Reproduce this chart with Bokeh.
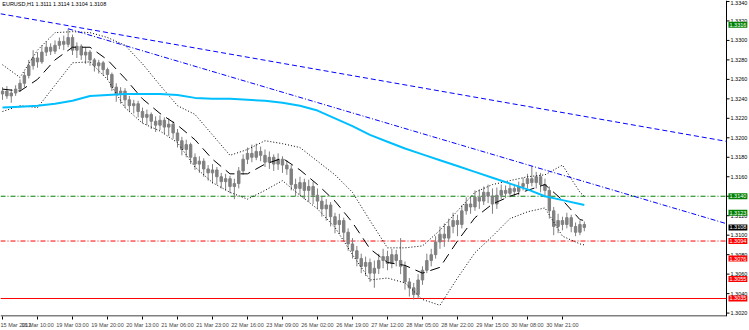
from bokeh.plotting import figure
from bokeh.models import Range1d, FixedTicker, Label
from bokeh.core.properties import value
from bokeh.embed import file_html
from bokeh.resources import INLINE

# ---------------- data ----------------
chart_title = "EURUSD,H1  1.3111 1.3114 1.3104 1.3108"

opens = [1.3245, 1.3248, 1.3243, 1.3246, 1.3250, 1.3256, 1.3264, 1.3274, 1.3282, 1.3278,
         1.3288, 1.3293, 1.3289, 1.3295, 1.3299, 1.3296, 1.3303, 1.3290, 1.3294, 1.3285,
         1.3288, 1.3280, 1.3274, 1.3277, 1.3270, 1.3265, 1.3252, 1.3245, 1.3248, 1.3239,
         1.3233, 1.3235, 1.3227, 1.3221, 1.3224, 1.3217, 1.3213, 1.3218, 1.3211, 1.3214,
         1.3205, 1.3197, 1.3188, 1.3193, 1.3180, 1.3173, 1.3176, 1.3168, 1.3164, 1.3167,
         1.3160, 1.3155, 1.3158, 1.3150, 1.3153, 1.3166, 1.3178, 1.3184, 1.3180, 1.3186,
         1.3182, 1.3175, 1.3180, 1.3173, 1.3178, 1.3172, 1.3168, 1.3152, 1.3148, 1.3154,
         1.3146, 1.3150, 1.3141, 1.3135, 1.3127, 1.3131, 1.3119, 1.3111, 1.3115, 1.3103,
         1.3091, 1.3084, 1.3076, 1.3068, 1.3072, 1.3061, 1.3066, 1.3074, 1.3078, 1.3071,
         1.3080, 1.3074, 1.3068, 1.3052, 1.3046, 1.3039, 1.3054, 1.3064, 1.3074, 1.3080,
         1.3093, 1.3101, 1.3097, 1.3109, 1.3115, 1.3111, 1.3125, 1.3132, 1.3129, 1.3139,
         1.3135, 1.3144, 1.3140, 1.3132, 1.3141, 1.3146, 1.3143, 1.3148, 1.3145, 1.3150,
         1.3153, 1.3158, 1.3154, 1.3160, 1.3152, 1.3146, 1.3125, 1.3109, 1.3115, 1.3111,
         1.3118, 1.3109, 1.3103, 1.3111]
highs = [1.3252, 1.3253, 1.3250, 1.3254, 1.3260, 1.3268, 1.3280, 1.3290, 1.3288, 1.3295,
         1.3299, 1.3297, 1.3300, 1.3303, 1.3305, 1.3312, 1.3306, 1.3298, 1.3296, 1.3293,
         1.3290, 1.3282, 1.3280, 1.3279, 1.3272, 1.3267, 1.3256, 1.3252, 1.3251, 1.3243,
         1.3239, 1.3238, 1.3231, 1.3229, 1.3226, 1.3222, 1.3223, 1.3221, 1.3220, 1.3217,
         1.3209, 1.3201, 1.3198, 1.3195, 1.3184, 1.3181, 1.3179, 1.3172, 1.3173, 1.3170,
         1.3164, 1.3163, 1.3161, 1.3158, 1.3170, 1.3183, 1.3190, 1.3193, 1.3194, 1.3191,
         1.3188, 1.3186, 1.3183, 1.3184, 1.3181, 1.3177, 1.3172, 1.3158, 1.3160, 1.3158,
         1.3157, 1.3155, 1.3148, 1.3140, 1.3137, 1.3134, 1.3123, 1.3122, 1.3118, 1.3107,
         1.3097, 1.3089, 1.3081, 1.3078, 1.3076, 1.3074, 1.3081, 1.3086, 1.3084, 1.3086,
         1.3085, 1.3097, 1.3073, 1.3056, 1.3051, 1.3060, 1.3068, 1.3081, 1.3086, 1.3099,
         1.3109, 1.3112, 1.3117, 1.3123, 1.3121, 1.3131, 1.3139, 1.3140, 1.3146, 1.3147,
         1.3150, 1.3152, 1.3148, 1.3149, 1.3152, 1.3151, 1.3153, 1.3152, 1.3155, 1.3159,
         1.3163, 1.3171, 1.3165, 1.3164, 1.3158, 1.3150, 1.3129, 1.3122, 1.3119, 1.3123,
         1.3121, 1.3113, 1.3115, 1.3114]
lows = [1.3239, 1.3240, 1.3236, 1.3243, 1.3247, 1.3252, 1.3261, 1.3270, 1.3272, 1.3276,
        1.3284, 1.3285, 1.3286, 1.3291, 1.3290, 1.3293, 1.3285, 1.3282, 1.3280, 1.3276,
        1.3274, 1.3268, 1.3266, 1.3264, 1.3260, 1.3248, 1.3237, 1.3235, 1.3231, 1.3227,
        1.3225, 1.3221, 1.3215, 1.3213, 1.3209, 1.3206, 1.3208, 1.3204, 1.3202, 1.3199,
        1.3190, 1.3182, 1.3180, 1.3173, 1.3167, 1.3164, 1.3160, 1.3156, 1.3153, 1.3152,
        1.3148, 1.3146, 1.3143, 1.3137, 1.3148, 1.3162, 1.3173, 1.3175, 1.3177, 1.3176,
        1.3170, 1.3168, 1.3166, 1.3167, 1.3164, 1.3162, 1.3146, 1.3140, 1.3141, 1.3137,
        1.3134, 1.3132, 1.3127, 1.3119, 1.3115, 1.3109, 1.3102, 1.3101, 1.3095, 1.3084,
        1.3076, 1.3068, 1.3061, 1.3058, 1.3052, 1.3046, 1.3060, 1.3066, 1.3064, 1.3066,
        1.3068, 1.3060, 1.3044, 1.3037, 1.3034, 1.3035, 1.3049, 1.3061, 1.3068, 1.3076,
        1.3086, 1.3088, 1.3093, 1.3102, 1.3099, 1.3107, 1.3121, 1.3122, 1.3125, 1.3127,
        1.3131, 1.3133, 1.3122, 1.3127, 1.3137, 1.3138, 1.3139, 1.3140, 1.3141, 1.3146,
        1.3148, 1.3150, 1.3148, 1.3144, 1.3139, 1.3117, 1.3100, 1.3102, 1.3105, 1.3107,
        1.3103, 1.3099, 1.3100, 1.3104]
closes = [1.3248, 1.3243, 1.3246, 1.3250, 1.3256, 1.3264, 1.3274, 1.3282, 1.3278, 1.3288,
          1.3293, 1.3289, 1.3295, 1.3299, 1.3296, 1.3303, 1.3290, 1.3294, 1.3285, 1.3288,
          1.3280, 1.3274, 1.3277, 1.3270, 1.3265, 1.3252, 1.3245, 1.3248, 1.3239, 1.3233,
          1.3235, 1.3227, 1.3221, 1.3224, 1.3217, 1.3213, 1.3218, 1.3211, 1.3214, 1.3205,
          1.3197, 1.3188, 1.3193, 1.3180, 1.3173, 1.3176, 1.3168, 1.3164, 1.3167, 1.3160,
          1.3155, 1.3158, 1.3150, 1.3153, 1.3166, 1.3178, 1.3184, 1.3180, 1.3186, 1.3182,
          1.3175, 1.3180, 1.3173, 1.3178, 1.3172, 1.3168, 1.3152, 1.3148, 1.3154, 1.3146,
          1.3150, 1.3141, 1.3135, 1.3127, 1.3131, 1.3119, 1.3111, 1.3115, 1.3103, 1.3091,
          1.3084, 1.3076, 1.3068, 1.3072, 1.3061, 1.3066, 1.3074, 1.3078, 1.3071, 1.3080,
          1.3074, 1.3068, 1.3052, 1.3046, 1.3039, 1.3054, 1.3064, 1.3074, 1.3080, 1.3093,
          1.3101, 1.3097, 1.3109, 1.3115, 1.3111, 1.3125, 1.3132, 1.3129, 1.3139, 1.3135,
          1.3144, 1.3140, 1.3132, 1.3141, 1.3146, 1.3143, 1.3148, 1.3145, 1.3150, 1.3153,
          1.3158, 1.3154, 1.3160, 1.3152, 1.3146, 1.3125, 1.3109, 1.3115, 1.3111, 1.3118,
          1.3109, 1.3103, 1.3111, 1.3108]

# indicator samples (bar index, value)
ind_idx = [0, 4, 8, 12, 16, 20, 24, 28, 32, 36, 40, 44, 48, 52, 56, 60, 64, 68, 72, 76,
           80, 84, 88, 92, 96, 100, 104, 108, 112, 116, 120, 124, 128, 132, 133]
bb_upper = [1.3275, 1.3262, 1.3290, 1.3308, 1.3309, 1.3308, 1.3303, 1.3295, 1.3276, 1.3254,
            1.3233, 1.3224, 1.3203, 1.3182, 1.3188, 1.3197, 1.3194, 1.3190, 1.3176, 1.3162,
            1.3144, 1.3115, 1.3087, 1.3087, 1.3089, 1.3105, 1.3125, 1.3144, 1.3152, 1.3156,
            1.3160, 1.3162, 1.3172, 1.3144, 1.3140]
bb_middle = [1.3250, 1.3248, 1.3260, 1.3280, 1.3293, 1.3293, 1.3280, 1.3261, 1.3240, 1.3225,
             1.3213, 1.3198, 1.3178, 1.3163, 1.3163, 1.3173, 1.3179, 1.3167, 1.3152, 1.3135,
             1.3113, 1.3086, 1.3072, 1.3069, 1.3061, 1.3067, 1.3094, 1.3118, 1.3132, 1.3140,
             1.3146, 1.3152, 1.3136, 1.3116, 1.3115]
bb_lower = [1.3227, 1.3233, 1.3231, 1.3254, 1.3277, 1.3278, 1.3260, 1.3231, 1.3215, 1.3207,
            1.3195, 1.3170, 1.3154, 1.3144, 1.3137, 1.3146, 1.3156, 1.3141, 1.3127, 1.3108,
            1.3080, 1.3054, 1.3056, 1.3051, 1.3034, 1.3028, 1.3056, 1.3082, 1.3099, 1.3117,
            1.3124, 1.3128, 1.3099, 1.3091, 1.3090]
ma_slow = [1.3231, 1.3232, 1.3233, 1.3235, 1.3238, 1.3243, 1.3244, 1.3245, 1.3245, 1.3245,
           1.3244, 1.3241, 1.3240, 1.3240, 1.3239, 1.3238, 1.3236, 1.3233, 1.3228, 1.3220,
           1.3212, 1.3203, 1.3196, 1.3189, 1.3183, 1.3177, 1.3171, 1.3165, 1.3159, 1.3153,
           1.3147, 1.3140, 1.3136, 1.3132, 1.3131]

# trend lines: two anchor points each (bar index, price)
trend_a_idx = [0, 133]
trend_a_price = [1.3327, 1.3222]
trend_b_idx = [15, 121]
trend_b_price = [1.3312, 1.3171]

# horizontal levels
level_green = 1.3140
level_red_dash = 1.3094
level_red = 1.3035

# price-scale marker boxes (price, colour)
marker_prices = [1.3316, 1.3140, 1.3123, 1.3108, 1.3094, 1.3076, 1.3055, 1.3035]
marker_colors = ["#008000", "#008000", "#008000", "#000000",
                 "#FF0000", "#FF0000", "#FF0000", "#FF0000"]

time_tick_idx = [0, 8, 16, 24, 32, 40, 48, 56, 64, 72, 80, 88, 96, 104, 112, 120, 128]
time_labels = ["15 Mar 2012", "16 Mar 10:00", "19 Mar 03:00", "19 Mar 20:00",
               "20 Mar 13:00", "21 Mar 06:00", "21 Mar 23:00", "22 Mar 16:00",
               "23 Mar 09:00", "26 Mar 02:00", "26 Mar 19:00", "27 Mar 12:00",
               "28 Mar 05:00", "28 Mar 22:00", "29 Mar 15:00", "30 Mar 08:00",
               "30 Mar 21:00"]
price_ticks = [1.3020, 1.3040, 1.3060, 1.3080, 1.3100, 1.3120, 1.3140, 1.3160, 1.3180,
               1.3200, 1.3220, 1.3240, 1.3260, 1.3280, 1.3300, 1.3320, 1.3340]

# ---------------- figure ----------------
X0, XS = -0.46, 165.5          # chart area: bar index range
PX = (XS - X0) / 726.0          # bar units per pixel
X1 = X0 + 749 * PX              # full canvas (price scale at right)
Y0, Y1 = 1.30165, 1.3341
PY = (Y1 - Y0) / 318.0
FONT = "Liberation Sans"

p = figure(width=749, height=330, x_range=Range1d(X0, X1),
           y_range=Range1d(Y0, Y1),
           toolbar_location=None, output_backend="svg",
           min_border_left=0, min_border_top=0, min_border_right=0, min_border_bottom=0)
p.outline_line_color = None
p.xgrid.visible = False
p.ygrid.visible = False
p.yaxis.visible = False
p.background_fill_color = "white"
p.border_fill_color = "white"

xa = p.xaxis[0]
xa.ticker = FixedTicker(ticks=time_tick_idx)
xa.major_label_overrides = {t: lab for t, lab in zip(time_tick_idx, time_labels)}
xa.major_label_text_font_size = "5.5px"
xa.major_label_text_font = FONT
xa.major_label_text_align = "left"
xa.major_tick_out = 3
xa.major_tick_in = 0
xa.minor_tick_out = 0
xa.minor_tick_in = 0
xa.major_label_standoff = 2
xa.axis_line_color = None
xa.major_tick_line_color = "black"

# chart border (bottom and right)
p.line([X0, XS], [Y0 + 0.5 * PY, Y0 + 0.5 * PY], line_color="black", line_width=1)
p.line([XS, XS], [Y0, Y1], line_color="black", line_width=1)

# horizontal levels
for lvl, col, dash in [(level_green, "#008000", "5 2 1 2"),
                       (level_red_dash, "#FF0000", "5 2 1 2"),
                       (level_red, "#FF0000", "solid")]:
    p.line([X0, XS], [lvl, lvl], line_color=col, line_width=1, line_dash=dash)

# candles
idx = list(range(len(closes)))
body_top = [max(o, c) for o, c in zip(opens, closes)]
body_bot = [min(o, c) for o, c in zip(opens, closes)]
p.segment(x0=idx, y0=highs, x1=idx, y1=lows, line_color="#808080", line_width=1)
p.vbar(x=idx, width=0.55, top=body_top, bottom=body_bot,
       fill_color="#808080", line_color="#808080", line_width=1)

# Bollinger bands
p.line(ind_idx, bb_upper, line_color="black", line_width=1, line_dash="1 2")
p.line(ind_idx, bb_lower, line_color="black", line_width=1, line_dash="1 2")
p.line(ind_idx, bb_middle, line_color="black", line_width=1, line_dash="10 6")

# slow moving average
p.line(ind_idx, ma_slow, line_color="#00BFFF", line_width=2)


def extend(ix, pr, xa_, xb_):
    s = (pr[1] - pr[0]) / (ix[1] - ix[0])
    return [xa_, xb_], [pr[0] + s * (xa_ - ix[0]), pr[0] + s * (xb_ - ix[0])]


tx, ty = extend(trend_a_idx, trend_a_price, X0, XS)
p.line(tx, ty, line_color="#0000FF", line_width=1, line_dash="5 3")
tx, ty = extend(trend_b_idx, trend_b_price, trend_b_idx[0], XS)
p.line(tx, ty, line_color="#0000FF", line_width=1, line_dash="5 2 1 2")

# price scale (right side)
p.segment(x0=[XS] * len(price_ticks), y0=price_ticks,
          x1=[XS + 3 * PX] * len(price_ticks), y1=price_ticks, line_color="black")
inner_ticks = price_ticks[:-1]
p.text(x=[XS + 4 * PX] * len(inner_ticks), y=inner_ticks,
       text=[f"{t:.4f}" for t in inner_ticks], text_font=value(FONT),
       text_font_size="5.5px", text_baseline="middle", text_align="left",
       text_color="black")
# top-most tick label kept inside the canvas
p.text(x=[XS + 4 * PX], y=[price_ticks[-1]], text=[f"{price_ticks[-1]:.4f}"],
       text_font=value(FONT), text_font_size="5.5px", text_baseline="top",
       text_align="left", text_color="black")

# price markers on the scale
for pr, col in zip(marker_prices, marker_colors):
    p.add_layout(Label(x=XS + 2 * PX, y=pr, text=f"{pr:.4f}", text_color="white",
                       text_font=FONT, text_font_size="5.5px", text_baseline="middle",
                       text_align="left", background_fill_color=col,
                       padding=1))

# title
p.add_layout(Label(x=X0 + 0.4, y=Y1 - 1 * PY, text=chart_title, text_font=FONT,
                   text_font_size="5.5px", text_baseline="top", text_color="black"))

open("out.html", "w").write(file_html(p, INLINE))
